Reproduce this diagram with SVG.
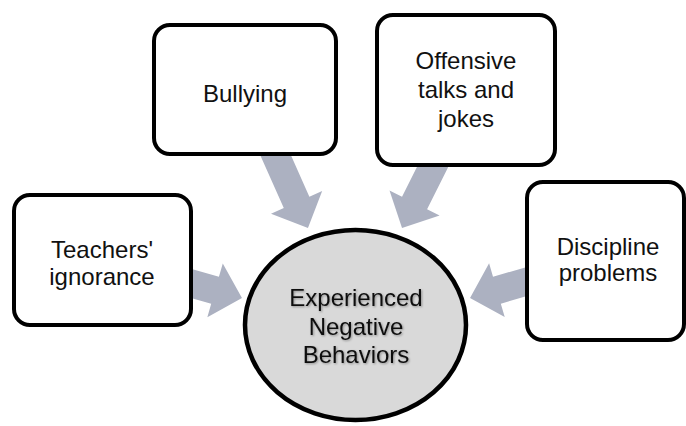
<svg xmlns="http://www.w3.org/2000/svg" width="686" height="426" viewBox="0 0 686 426">
  <defs>
    <filter id="shadow" x="-10%" y="-10%" width="130%" height="130%">
      <feDropShadow dx="1" dy="1" stdDeviation="0.8" flood-color="#000" flood-opacity="0.35"/>
    </filter>
  </defs>
  <style>
    .box { fill: #ffffff; stroke: #000000; stroke-width: 4; }
    .hub { fill: #d9d9d9; stroke: #000000; stroke-width: 4.5; }
    .arrow { fill: #acb1c1; stroke: none; }
    .label { font-family: "Liberation Sans", Arial, sans-serif; font-size: 24px; fill: #111111; text-anchor: middle; }
    .hubtext { filter: url(#shadow); }
  </style>
  <rect width="686" height="426" fill="#ffffff"/>

  <g id="connectors">
    <polygon class="arrow" transform="translate(184.3,281.5) rotate(16)" points="0,-14 32,-14 32,-28 60,0 32,28 32,14 0,14"/>
    <polygon class="arrow" transform="translate(273.4,150.3) rotate(66)" points="0,-14 57,-14 57,-28 85,0 57,28 57,14 0,14"/>
    <polygon class="arrow" transform="translate(435.6,161) rotate(116.6)" points="0,-14 47,-14 47,-28 75,0 47,28 47,14 0,14"/>
    <polygon class="arrow" transform="translate(533.4,279.6) rotate(163.8)" points="0,-14 38,-14 38,-28 66,0 38,28 38,14 0,14"/>
  </g>

  <g id="node-teachers">
    <rect class="box" x="14" y="195" width="177" height="130" rx="16" ry="16"/>
    <text class="label" x="102" y="258">Teachers'</text>
    <text class="label" x="102" y="285">ignorance</text>
  </g>

  <g id="node-bullying">
    <rect class="box" x="154" y="25" width="182" height="129" rx="16" ry="16"/>
    <text class="label" x="245" y="102">Bullying</text>
  </g>

  <g id="node-offensive">
    <rect class="box" x="377" y="15" width="178" height="150" rx="16" ry="16"/>
    <text class="label" x="466" y="69">Offensive</text>
    <text class="label" x="466" y="98">talks and</text>
    <text class="label" x="466" y="127">jokes</text>
  </g>

  <g id="node-discipline">
    <rect class="box" x="527" y="182" width="157" height="158" rx="16" ry="16"/>
    <text class="label" x="608" y="255">Discipline</text>
    <text class="label" x="608" y="281">problems</text>
  </g>

  <g id="node-hub">
    <ellipse class="hub" cx="355.5" cy="325" rx="110.5" ry="95"/>
    <text class="label hubtext" x="356" y="306">Experienced</text>
    <text class="label hubtext" x="356" y="335">Negative</text>
    <text class="label hubtext" x="356" y="363">Behaviors</text>
  </g>
</svg>
